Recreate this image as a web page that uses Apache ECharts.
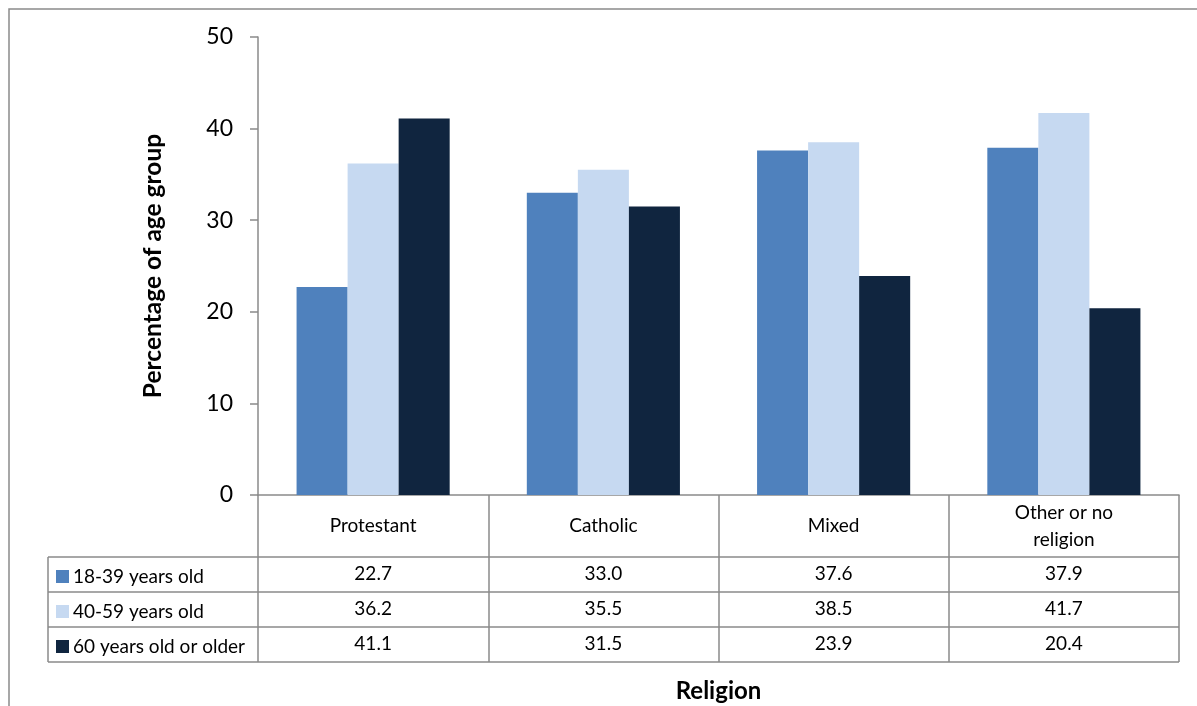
<!DOCTYPE html>
<html>
<head>
<meta charset="utf-8">
<script src="https://cdn.jsdelivr.net/npm/echarts@6/dist/echarts.min.js"></script>
<style>
html,body{margin:0;padding:0;background:#fff;}
#chart{width:1197px;height:706px;}
</style>
</head>
<body>
<div id="chart"></div>
<script>
const categories = ['Protestant', 'Catholic', 'Mixed', 'Other or no\nreligion'];
const seriesNames = ['18-39 years old', '40-59 years old', '60 years old or older'];
const age18to39 = [22.7, 33.0, 37.6, 37.9];
const age40to59 = [36.2, 35.5, 38.5, 41.7];
const age60plus = [41.1, 31.5, 23.9, 20.4];
const yTicks = [0, 10, 20, 30, 40, 50];

const colors = ['#4F81BD', '#C6D9F1', '#10253F'];
const seriesValues = [age18to39, age40to59, age60plus];
const FONT = 'Lato';
const LINE = '#8a8a8a';
const TABLE_FS = 19;

const chart = echarts.init(document.getElementById('chart'), null, {renderer: 'canvas'});

const GRID = {left: 258, right: 18, top: 37, bottom: 211};
const HEADER_H = 62;
const ROW_H = 35;
const firstRowTop = 706 - GRID.bottom + HEADER_H;

const option = {
  animation: false,
  backgroundColor: '#fff',
  textStyle: {fontFamily: FONT},
  grid: Object.assign({outerBoundsMode: 'none', containLabel: false}, GRID),
  legend: seriesNames.map((n, i) => ({
    orient: 'vertical',
    left: 56,
    top: firstRowTop + i * ROW_H + ROW_H / 2 - 7.5,
    padding: 0,
    itemWidth: 13,
    itemHeight: 13,
    icon: 'rect',
    selectedMode: false,
    data: [n],
    textStyle: {fontFamily: FONT, fontSize: TABLE_FS, color: '#000', lineHeight: 13, padding: [0, 0, 0, -1]}
  })),
  xAxis: {
    type: 'category',
    data: categories,
    boundaryGap: true,
    name: 'Religion',
    nameLocation: 'middle',
    nameGap: 184,
    nameTextStyle: {fontFamily: FONT, fontSize: 24, fontWeight: 'bold', color: '#000'},
    axisLine: {show: true, lineStyle: {color: LINE, width: 1.5}},
    axisTick: {show: true, interval: 0, length: HEADER_H + ROW_H * 3, lineStyle: {color: LINE, width: 1.5}},
    axisLabel: {
      interval: 0,
      margin: 31,
      verticalAlign: 'middle',
      fontFamily: FONT,
      fontSize: TABLE_FS,
      lineHeight: 27,
      color: '#000'
    },
    splitLine: {show: false}
  },
  yAxis: {
    type: 'value',
    min: yTicks[0],
    max: yTicks[yTicks.length - 1],
    interval: yTicks[1] - yTicks[0],
    name: 'Percentage of age group',
    nameLocation: 'middle',
    nameGap: 92,
    nameTextStyle: {fontFamily: FONT, fontSize: 24.5, fontWeight: 'bold', color: '#000'},
    axisLine: {show: true, lineStyle: {color: LINE, width: 1.5}},
    axisTick: {show: true, length: 8, lineStyle: {color: LINE, width: 1.5}},
    axisLabel: {fontFamily: FONT, fontSize: 23, color: '#000', margin: 25},
    splitLine: {show: false}
  },
  series: seriesNames.map((n, i) => ({
    name: n,
    type: 'bar',
    data: seriesValues[i],
    barGap: '0%',
    barCategoryGap: '33.5%',
    itemStyle: {color: colors[i]}
  }))
};

chart.setOption(option);

const right = 1197 - GRID.right;
const tableLeft = 48;
const graphics = [];
graphics.push({type: 'rect', shape: {x: 9, y: 9, width: 1200, height: 720}, style: {fill: 'none', stroke: LINE, lineWidth: 1.5}, silent: true});
for (let r = 0; r <= seriesNames.length; r++) {
  const y = firstRowTop + r * ROW_H;
  graphics.push({type: 'line', shape: {x1: tableLeft, y1: y, x2: right, y2: y}, style: {stroke: LINE, lineWidth: 1.5}, silent: true});
}
graphics.push({type: 'line', shape: {x1: tableLeft, y1: firstRowTop, x2: tableLeft, y2: firstRowTop + seriesNames.length * ROW_H}, style: {stroke: LINE, lineWidth: 1.5}, silent: true});
for (let r = 0; r < seriesNames.length; r++) {
  const cy = firstRowTop + r * ROW_H + ROW_H / 2 - 1;
  for (let c = 0; c < categories.length; c++) {
    const cx = chart.convertToPixel({xAxisIndex: 0}, c);
    graphics.push({
      type: 'text', silent: true,
      style: {text: seriesValues[r][c].toFixed(1), x: cx, y: cy, textAlign: 'center', textVerticalAlign: 'middle', font: TABLE_FS + 'px ' + FONT, fill: '#000'}
    });
  }
}
chart.setOption({graphic: graphics});
</script>
</body>
</html>
